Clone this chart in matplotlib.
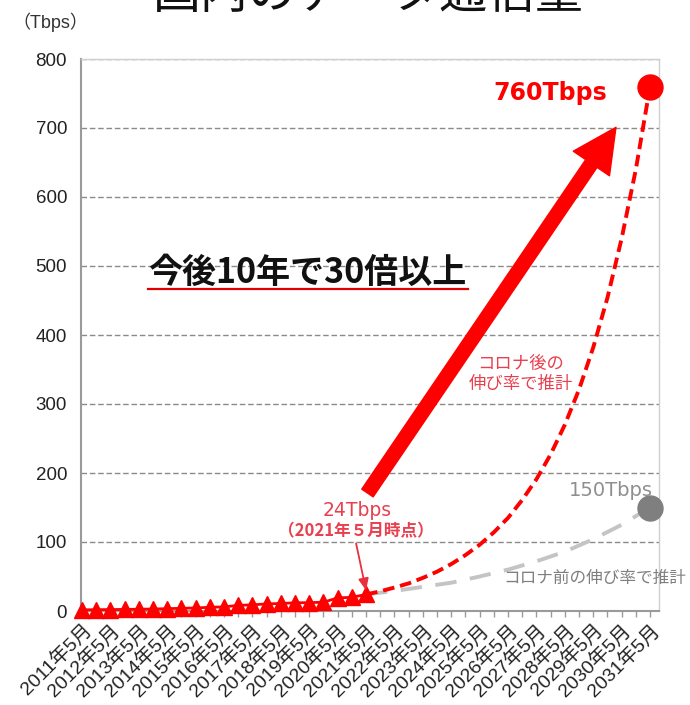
import matplotlib
matplotlib.use("Agg")
import matplotlib.pyplot as plt
from matplotlib.patches import FancyArrowPatch
from matplotlib.lines import Line2D

plt.rcParams['font.family'] = ['Liberation Sans', 'Noto Sans CJK JP']

# ---- data ----
year_labels = ["2011年5月", "2012年5月", "2013年5月", "2014年5月", "2015年5月",
               "2016年5月", "2017年5月", "2018年5月", "2019年5月", "2020年5月",
               "2021年5月", "2022年5月", "2023年5月", "2024年5月", "2025年5月",
               "2026年5月", "2027年5月", "2028年5月", "2029年5月", "2030年5月",
               "2031年5月"]
# half-year actual values (May / Nov), 2011/5 .. 2021/5  [Tbps]
actual = [1.7, 1.9, 2.1, 2.3, 2.6, 2.9, 3.4, 3.9, 4.4, 5.4, 6.0,
          8.2, 8.9, 10.3, 10.9, 11.9, 12.1, 12.7, 19.0, 19.8, 24.0]
# projection with post-COVID growth, half-yearly 2021/5 .. 2031/5
post_covid = [24, 28.5, 34, 40, 48, 57, 68, 81, 96, 114, 135,
              161, 191, 227, 270, 321, 382, 454, 540, 640, 760]
# projection with pre-COVID growth, yearly 2021/5 .. 2031/5
pre_covid = [24, 29, 35, 41, 50, 60, 72, 86, 104, 125, 150]
y_ticks = [0, 100, 200, 300, 400, 500, 600, 700, 800]

W, H = 690, 705
fig = plt.figure(figsize=(W / 100, H / 100), dpi=100)
ax = fig.add_axes([81 / W, 1 - 611 / H, (659 - 81) / W, (611 - 59) / H])

def fx(px):
    return px / W

def fy(py):
    return 1 - py / H

x_actual = list(range(len(actual)))
x_post = list(range(len(actual) - 1, len(actual) - 1 + len(post_covid)))
x_pre = list(range(len(actual) - 1, len(actual) - 1 + 2 * len(pre_covid), 2))

ax.set_xlim(-0.07, 40.63)
ax.set_ylim(0, 800)

# grid & spines
ax.set_yticks(y_ticks)
ax.yaxis.grid(True, color='#8a8a8a', linestyle=(0, (4, 2)), lw=1)
ax.set_axisbelow(True)
for s in ['top', 'right']:
    ax.spines[s].set_color('#cfcfcf')
    ax.spines[s].set_linewidth(1)
for s in ['left', 'bottom']:
    ax.spines[s].set_color('#9a9a9a')
    ax.spines[s].set_linewidth(1.5)

ax.tick_params(axis='y', length=0, pad=10, labelsize=13.5, labelcolor='#222222')
ax.set_xticks(range(0, 41, 2))
ax.set_xticks(range(1, 41, 2), minor=True)
ax.set_xticklabels(year_labels, rotation=45, ha='right', rotation_mode='anchor',
                   fontsize=14, color='#222222')
ax.tick_params(axis='x', which='both', length=4, width=1, color='#9a9a9a',
               direction='out', pad=3)

# series
ax.plot(x_pre, pre_covid, color='#c4c4c4', lw=2.8, ls=(0, (5.5, 3.5)), zorder=3)
ax.plot(x_post, post_covid, color='#ff0000', lw=2.8, ls=(0, (3.0, 1.5)), zorder=4)
ax.plot(x_actual, actual, color='#ff0000', lw=2, marker='^', ms=11,
        clip_on=False, zorder=5)
ax.plot([x_post[-1]], [post_covid[-1]], 'o', color='#ff0000', ms=18,
        clip_on=False, zorder=6)
ax.plot([x_pre[-1]], [pre_covid[-1]], 'o', color='#7f7f7f', ms=18,
        clip_on=False, zorder=6)

# big arrow
big = FancyArrowPatch((20.1, 171), (37.6, 701),
                      arrowstyle='simple,head_length=1.05,head_width=1.05,tail_width=0.33',
                      mutation_scale=30, color='#ff0000', shrinkA=0, shrinkB=0,
                      zorder=7)
ax.add_patch(big)

# small arrow to 2021 point
small = FancyArrowPatch((19.3, 98), (20.0, 30),
                        arrowstyle='-|>,head_length=0.5,head_width=0.22',
                        mutation_scale=14, color='#e8303f', lw=1.3,
                        shrinkA=0, shrinkB=0, zorder=7)
ax.add_patch(small)

# texts
fig.text(fx(368), fy(8), "国内のデータ通信量", fontsize=34.5, ha='center',
         va='baseline', family=['Noto Sans CJK JP'], color='#111111')
fig.text(fx(50), fy(22), "（Tbps）", fontsize=13, ha='center', va='center',
         color='#333333')
fig.text(fx(550), fy(93), "760Tbps", fontsize=17, fontweight='bold',
         family=['DejaVu Sans'], ha='center', va='center', color='#ff0000')
fig.text(fx(307), fy(272), "今後10年で30倍以上", fontsize=24.5, fontweight='bold',
         family=['Noto Sans CJK JP'], ha='center', va='center', color='#111111')
fig.add_artist(Line2D([fx(148), fx(468)], [fy(289), fy(289)], color='#e00000',
                      lw=1.6))
fig.text(fx(521), fy(374), "コロナ後の\n伸び率で推計", fontsize=12.5,
         family=['Noto Sans CJK JP'], ha='center', va='center',
         color='#e8404f', linespacing=1.1)
fig.text(fx(357), fy(511), "24Tbps", fontsize=13.5, family=['DejaVu Sans'],
         ha='center', va='center', color='#e8404f')
fig.text(fx(356), fy(531), "（2021年５月時点）", fontsize=12, fontweight='bold',
         family=['Noto Sans CJK JP'], ha='center', va='center', color='#e8404f')
fig.text(fx(611), fy(490), "150Tbps", fontsize=14, family=['DejaVu Sans'],
         ha='center', va='center', color='#8f8f8f')
fig.text(fx(595), fy(578), "コロナ前の伸び率で推計", fontsize=12,
         family=['Noto Sans CJK JP'], ha='center', va='center', color='#7f7f7f')

fig.savefig("out.png", dpi=100)
